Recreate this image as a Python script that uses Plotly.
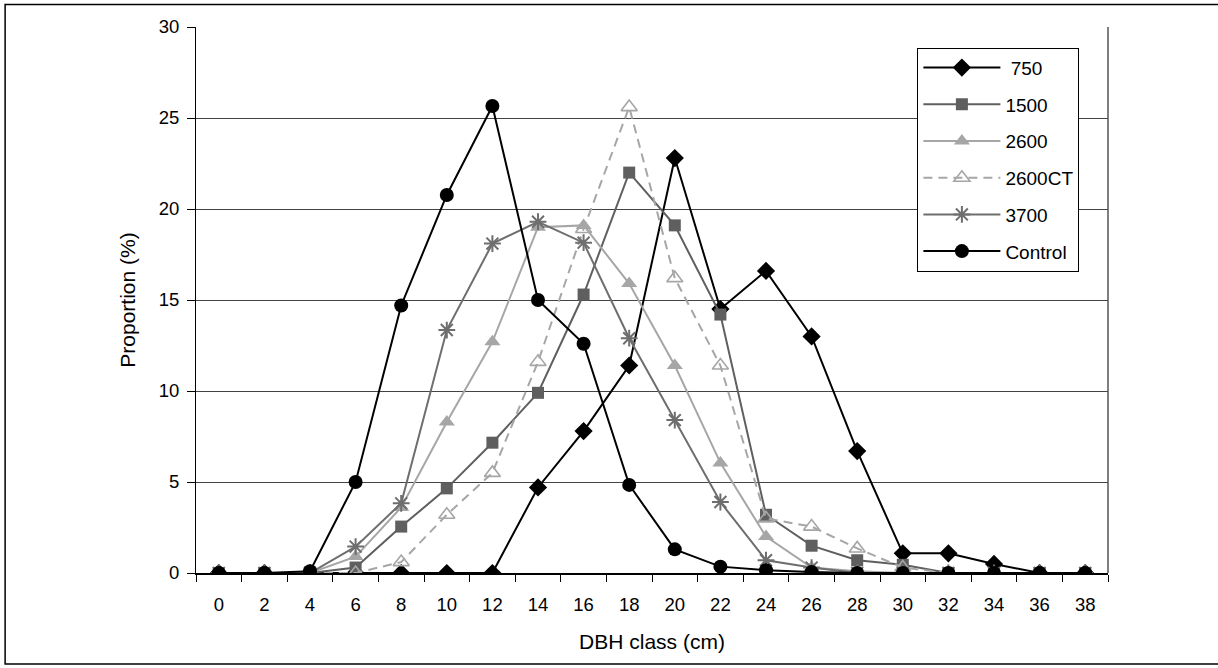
import plotly.graph_objects as go

dbh_classes = ["0", "2", "4", "6", "8", "10", "12", "14", "16", "18",
               "20", "22", "24", "26", "28", "30", "32", "34", "36", "38"]

s750 = [0, 0, 0, 0, 0, 0, 0, 4.7, 7.8, 11.4, 22.8, 14.5, 16.6, 13.0, 6.7, 1.08, 1.08, 0.5, 0, 0]
s1500 = [0, 0, 0, 0.3, 2.55, 4.65, 7.16, 9.9, 15.3, 22.0, 19.1, 14.2, 3.2, 1.5, 0.7, 0.45, 0, 0, 0, 0]
s2600 = [0, 0, 0, 0.9, 3.6, 8.3, 12.7, 19.0, 19.1, 15.9, 11.4, 6.05, 2.0, 0.3, 0.1, 0, 0, 0, 0, 0]
s2600ct = [0, 0, 0, 0, 0.6, 3.2, 5.5, 11.6, 18.9, 25.6, 16.2, 11.4, 3.0, 2.55, 1.35, 0.3, 0, 0, 0, 0]
s3700 = [0, 0, 0, 1.45, 3.83, 13.35, 18.1, 19.3, 18.15, 12.9, 8.4, 3.9, 0.7, 0.3, 0, 0, 0, 0, 0, 0]
control = [0, 0, 0.1, 5.0, 14.7, 20.77, 25.66, 15.0, 12.6, 4.84, 1.3, 0.35, 0.15, 0.05, 0, 0, 0, 0, 0, 0]

y_ticks = [0, 5, 10, 15, 20, 25, 30]

FONT = "Liberation Sans, Arial, sans-serif"

fig = go.Figure()

series = [
    ("\u00a0750", s750, "#000000", "diamond", 14, "solid", 0),
    ("1500", s1500, "#5f5f5f", "square", 12, "solid", 0),
    ("2600", s2600, "#a6a6a6", "triangle-up", 14, "solid", 0),
    ("2600CT", s2600ct, "#a6a6a6", "triangle-up-open", 14, "9px,6px", 1.6),
    ("3700", s3700, "#6e6e6e", "asterisk-open", 14, "solid", 2),
    ("Control", control, "#000000", "circle", 14, "solid", 0),
]

for i, (name, vals, color, sym, size, dash, mlw) in enumerate(series):
    fig.add_trace(go.Scatter(
        x=dbh_classes, y=vals, name=name, mode="lines+markers",
        legendgroup="g%d" % i,
        line=dict(color=color, width=2, dash=dash),
        marker=dict(symbol=sym, size=size, color=color,
                    line=dict(color=color, width=mlw)),
    ))

fig.update_layout(
    width=1218, height=668,
    margin=dict(l=196, r=110, t=27, b=95),
    paper_bgcolor="white", plot_bgcolor="white",
    font=dict(family=FONT, size=18, color="black"),
    showlegend=True,
    legend=dict(
        x=0.791, y=0.962, xanchor="left", yanchor="top",
        bordercolor="#000000", borderwidth=1, bgcolor="white",
        font=dict(family=FONT, size=19, color="black"),
        tracegroupgap=9, itemwidth=77,
    ),
    xaxis=dict(
        type="category", tickson="boundaries", range=[-0.5, 19.5],
        showline=True, linecolor="black", linewidth=2,
        ticks="outside", ticklen=7, tickcolor="black",
        ticklabelstandoff=14,
        showgrid=False, zeroline=False,
        tickfont=dict(family=FONT, size=18.5),
        title=dict(text="DBH class (cm)", font=dict(family=FONT, size=21), standoff=20),
    ),
    yaxis=dict(
        range=[0, 30], tickvals=y_ticks,
        showline=True, linecolor="black", linewidth=1,
        ticks="outside", ticklen=8, tickcolor="black",
        ticklabelstandoff=4,
        showgrid=True, gridcolor="#444444", gridwidth=1.3,
        zeroline=False,
        tickfont=dict(family=FONT, size=18.5),
        title=dict(text="Proportion (%)", font=dict(family=FONT, size=21), standoff=17),
    ),
    shapes=[
        dict(type="line", xref="paper", yref="paper", x0=1, x1=1, y0=0, y1=1,
             line=dict(color="#555555", width=1.5)),
        dict(type="rect", xref="paper", yref="paper",
             x0=-0.2093, x1=1.14, y0=-0.1667, y1=1.0412,
             line=dict(color="black", width=1.5)),
    ],
)

fig.write_html("out.html", config={"displayModeBar": False},
               post_script="document.body.style.margin='0';")
